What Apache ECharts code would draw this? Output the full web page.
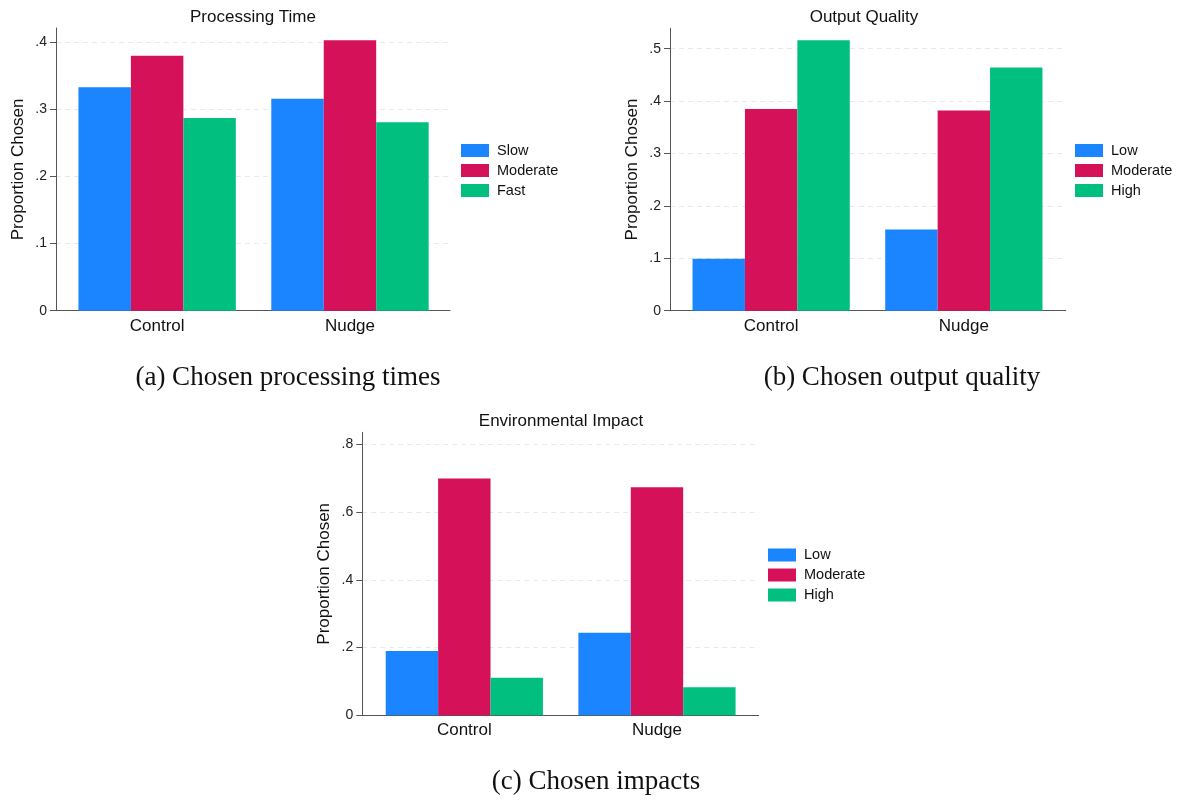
<!DOCTYPE html>
<html>
<head>
<meta charset="utf-8">
<script src="https://cdn.jsdelivr.net/npm/echarts@6/dist/echarts.min.js"></script>
<style>
html,body{margin:0;padding:0;background:#fff;}
#chart{width:1178px;height:800px;}
</style>
</head>
<body>
<div id="chart"></div>
<script>
// ---- data ----
const categories = ['Control', 'Nudge'];

const timeNames = ['Slow', 'Moderate', 'Fast'];
const timeSlow = [0.333, 0.316];
const timeModerate = [0.380, 0.403];
const timeFast = [0.287, 0.281];
const timeTicks = [0, 0.1, 0.2, 0.3, 0.4];

const qualityNames = ['Low', 'Moderate', 'High'];
const qualityLow = [0.099, 0.155];
const qualityModerate = [0.385, 0.382];
const qualityHigh = [0.516, 0.464];
const qualityTicks = [0, 0.1, 0.2, 0.3, 0.4, 0.5];

const impactNames = ['Low', 'Moderate', 'High'];
const impactLow = [0.190, 0.244];
const impactModerate = [0.699, 0.673];
const impactHigh = [0.111, 0.083];
const impactTicks = [0, 0.2, 0.4, 0.6, 0.8];

const panelTitles = ['Processing Time', 'Output Quality', 'Environmental Impact'];
const captions = ['(a) Chosen processing times', '(b) Chosen output quality', '(c) Chosen impacts'];
const yAxisTitle = 'Proportion Chosen';

// ---- styling / layout ----
const colors = ['#1A85FF', '#D41159', '#00BF7F'];
const SANS = '"Liberation Sans", Arial, Helvetica, sans-serif';
const SERIF = '"Liberation Serif", "Times New Roman", serif';

const panels = [
  { names: timeNames, values: [timeSlow, timeModerate, timeFast], ticks: timeTicks, ymax: 0.4213,
    frame: { l: 56, r: 450, t: 28, b: 310.7 }, bars: { l: 60.7, r: 446.4 },
    legend: { l: 461, t: 143 }, title: { x: 253, y: 17 }, caption: { x: 288, y: 378 } },
  { names: qualityNames, values: [qualityLow, qualityModerate, qualityHigh], ticks: qualityTicks, ymax: 0.539,
    frame: { l: 670, r: 1065.7, t: 28.3, b: 310.7 }, bars: { l: 674.8, r: 1060.2 },
    legend: { l: 1075, t: 143 }, title: { x: 864, y: 17 }, caption: { x: 902, y: 378 } },
  { names: impactNames, values: [impactLow, impactModerate, impactHigh], ticks: impactTicks, ymax: 0.8354,
    frame: { l: 362.3, r: 758.7, t: 432.3, b: 715.3 }, bars: { l: 368, r: 753.3 },
    legend: { l: 768, t: 547.5 }, title: { x: 561, y: 421 }, caption: { x: 596, y: 782 } }
];

const fmt = v => (Math.abs(v) < 1e-9 ? '0' : (+v).toFixed(1).replace(/^0/, ''));

const grid = [], xAxis = [], yAxis = [], series = [], legend = [], graphic = [];

panels.forEach((p, i) => {
  grid.push({ left: p.frame.l, top: p.frame.t, width: p.frame.r - p.frame.l, height: p.frame.b - p.frame.t });
  grid.push({ left: p.bars.l, top: p.frame.t, width: p.bars.r - p.bars.l, height: p.frame.b - p.frame.t });
  const gFrame = 2 * i, gBars = 2 * i + 1;

  // frame axes
  xAxis.push({
    gridIndex: gFrame, type: 'value', min: 0, max: 1,
    axisLine: { show: true, lineStyle: { color: '#555', width: 1 } },
    axisTick: { show: false }, axisLabel: { show: false }, splitLine: { show: false }
  });
  yAxis.push({
    gridIndex: gFrame, type: 'value', min: 0, max: p.ymax,
    name: yAxisTitle, nameLocation: 'middle', nameRotate: 90, nameGap: 29,
    nameTextStyle: { fontFamily: SANS, fontSize: 17, color: '#111' },
    axisLine: { show: true, lineStyle: { color: '#555', width: 1 } },
    axisTick: { show: true, length: 6, customValues: p.ticks, lineStyle: { color: '#555' } },
    axisLabel: { show: true, customValues: p.ticks, formatter: fmt, margin: 9,
      fontFamily: SANS, fontSize: 14, color: '#222' },
    splitLine: { show: true, lineStyle: { color: '#e9e9e9', width: 1, type: [5, 4] } }
  });
  // bar axes
  xAxis.push({
    gridIndex: gBars, type: 'category', data: categories,
    axisLine: { show: false }, axisTick: { show: false },
    axisLabel: { fontFamily: SANS, fontSize: 17, color: '#111', margin: 7 }
  });
  yAxis.push({ gridIndex: gBars, type: 'value', min: 0, max: p.ymax, show: false });

  p.names.forEach((n, k) => {
    series.push({
      type: 'bar', name: n, xAxisIndex: gBars, yAxisIndex: gBars,
      data: p.values[k], barGap: '0%', barCategoryGap: '18.4%',
      itemStyle: { color: colors[k] }, animation: false
    });
  });

  legend.push({
    orient: 'vertical', left: p.legend.l, top: p.legend.t, data: p.names, padding: 0,
    icon: 'rect', itemWidth: 28, itemHeight: 13, itemGap: 5, selectedMode: false,
    textStyle: { fontFamily: SANS, fontSize: 14.5, color: '#111', lineHeight: 14, padding: [0, 0, 0, 3] }
  });

  graphic.push({
    type: 'text', x: p.title.x, y: p.title.y, silent: true,
    style: { text: panelTitles[i], font: '17px ' + SANS, fill: '#111', textAlign: 'center', textVerticalAlign: 'middle' }
  });
  graphic.push({
    type: 'text', x: p.caption.x, y: p.caption.y, silent: true,
    style: { text: captions[i], font: '27px ' + SERIF, fill: '#111', textAlign: 'center', textVerticalAlign: 'middle' }
  });
});

const chart = echarts.init(document.getElementById('chart'), null, { renderer: 'canvas' });
chart.setOption({
  animation: false,
  backgroundColor: '#fff',
  grid, xAxis, yAxis, series, legend, graphic
});
</script>
</body>
</html>
